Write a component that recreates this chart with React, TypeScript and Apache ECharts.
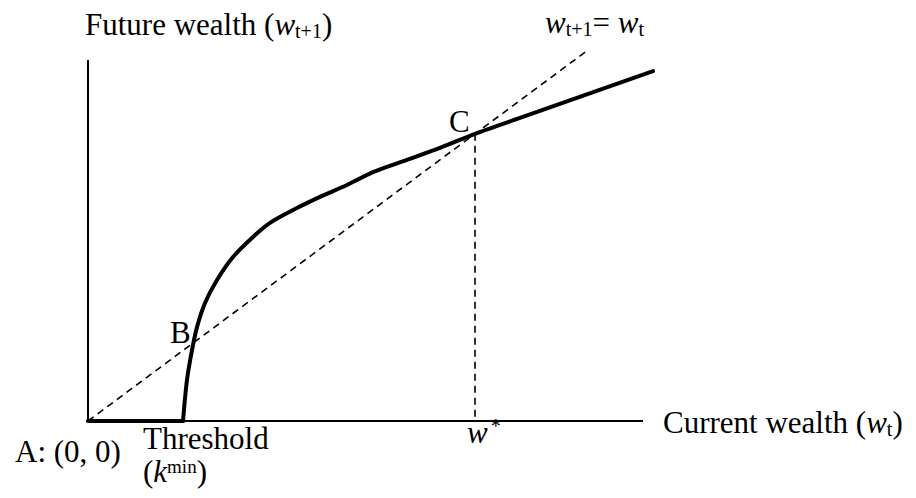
import React, { useEffect, useRef } from "react";
import * as echarts from "echarts";

// ---- data (x = current wealth, y = future wealth, arbitrary units) ----
const xRange = [0, 11.3];
const yRange = [0, 10];
const yAxisSegment = [[0, 0], [0, 9.73]];
const xAxisSegment = [[0, 0], [11.1, 0]];
const diagonal45 = [[0, 0], [10, 10]];
const thresholdK = 1.9;
const flatPart = [[0, 0], [thresholdK, 0]];
const curveX = [1.9, 1.98, 2.08, 2.18, 2.34, 2.58, 2.9, 3.3, 3.64, 4.18, 4.64, 5.18, 5.7, 6.38, 7.04, 7.74, 8.64, 11.3];
const curveY = [0, 1.11, 1.91, 2.53, 3.18, 3.8, 4.42, 4.96, 5.34, 5.74, 6.04, 6.36, 6.71, 7.04, 7.36, 7.74, 8.17, 9.43];
const steadyState = 7.74; // w*
const wStarDrop = [[steadyState, steadyState], [steadyState, 0]];

const FONT = '"Liberation Serif", "Times New Roman", serif';
const MID = 0.34;

type Piece = { t: string; size: number; italic?: boolean; dy?: number; dx?: number };

let ctx: CanvasRenderingContext2D | null = null;
function measure(t: string, size: number, italic?: boolean) {
  if (!ctx) ctx = document.createElement("canvas").getContext("2d");
  ctx!.font = `${italic ? "italic " : ""}${size}px ${FONT}`;
  return ctx!.measureText(t).width;
}

function run(x0: number, baseline: number, pieces: Piece[]) {
  const els: any[] = [];
  let x = x0;
  for (const p of pieces) {
    x += p.dx || 0;
    const y = baseline + (p.dy || 0) - MID * p.size;
    els.push({
      type: "text",
      x,
      y,
      silent: true,
      style: {
        text: p.t,
        fontSize: p.size,
        fontFamily: FONT,
        fontStyle: p.italic ? "italic" : "normal",
        fill: "#000",
        align: "left",
        textAlign: "left",
        verticalAlign: "middle",
        textVerticalAlign: "middle",
      },
    });
    x += measure(p.t, p.size, p.italic);
  }
  return els;
}

export default function App() {
  const ref = useRef<HTMLDivElement>(null);
  useEffect(() => {
    if (!ref.current) return;
    const chart = echarts.init(ref.current, null, { renderer: "svg" });
    const S = 31;
    const s = 20;
    const graphics = [
      ...run(85, 35, [
        { t: "Future wealth (", size: S },
        { t: "w", size: S, italic: true },
        { t: "t+1", size: s, dy: 3 },
        { t: ")", size: S },
      ]),
      ...run(545, 33, [
        { t: "w", size: S, italic: true },
        { t: "t+1", size: s, dy: 3 },
        { t: "= ", size: S },
        { t: "w", size: S, italic: true },
        { t: "t", size: s, dy: 3 },
      ]),
      ...run(449, 132, [{ t: "C", size: S }]),
      ...run(170, 343, [{ t: "B", size: S }]),
      ...run(15, 462, [{ t: "A: (0, 0)", size: S }]),
      ...run(143, 449, [{ t: "Threshold", size: S }]),
      ...run(143, 482, [
        { t: "(", size: S },
        { t: "k", size: S, italic: true },
        { t: "min", size: 19, dy: -9 },
        { t: ")", size: S },
      ]),
      ...run(467, 443, [
        { t: "w", size: S, italic: true },
        { t: "*", size: s, dy: -10, dx: 3 },
      ]),
      ...run(663, 433, [
        { t: "Current wealth (", size: S },
        { t: "w", size: S, italic: true },
        { t: "t", size: s, dy: 3 },
        { t: ")", size: S },
      ]),
    ];

    const solid = (w: number) => ({ color: "#000", width: w, type: "solid" as const });
    const dashed = { color: "#000", width: 1.6, type: [7, 5] as any };
    const base = { type: "line" as const, symbol: "none", silent: true, animation: false };

    chart.setOption({
      animation: false,
      backgroundColor: "#fff",
      grid: { left: 88, right: 263, top: 50, bottom: 77, containLabel: false },
      xAxis: {
        type: "value", min: xRange[0], max: xRange[1],
        axisLine: { show: false }, axisTick: { show: false }, axisLabel: { show: false }, splitLine: { show: false },
      },
      yAxis: {
        type: "value", min: yRange[0], max: yRange[1],
        axisLine: { show: false }, axisTick: { show: false }, axisLabel: { show: false }, splitLine: { show: false },
      },
      series: [
        { ...base, name: "y axis", data: yAxisSegment, lineStyle: solid(2) },
        { ...base, name: "x axis", data: xAxisSegment, lineStyle: solid(2) },
        { ...base, name: "w(t+1) = w(t)", data: diagonal45, lineStyle: dashed },
        { ...base, name: "w*", data: wStarDrop, lineStyle: dashed },
        { ...base, name: "below threshold", data: flatPart, lineStyle: { ...solid(4), cap: "round" } },
        {
          ...base, name: "wealth dynamics",
          data: curveX.map((x, i) => [x, curveY[i]]),
          smooth: 0.3,
          lineStyle: { ...solid(4), cap: "round", join: "round" },
        },
      ],
      graphic: graphics,
    });
    return () => chart.dispose();
  }, []);
  return (
    <div
      ref={ref}
      style={{ position: "fixed", left: 0, top: 0, width: 916, height: 498, background: "#fff" }}
    />
  );
}
